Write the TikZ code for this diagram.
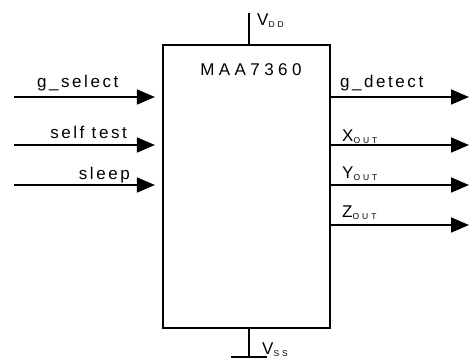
\documentclass[tikz,border=0pt]{standalone}
\usepackage{fontspec}
\setmainfont{Liberation Sans}
\usetikzlibrary{positioning,arrows.meta}

\newcommand{\subtxt}[1]{\raisebox{-2.5pt}{\fontsize{8.5}{8.5}\selectfont\addfontfeature{LetterSpace=35}#1}}

\tikzset{
  sig/.style={line width=1.7pt,-{Triangle[length=18pt,width=15pt]}},
  rail/.style={line width=2pt},
  lbl/.style={inner sep=0pt,font=\fontsize{17}{20}\selectfont\addfontfeature{LetterSpace=15}},
}

\begin{document}
\begin{tikzpicture}[x=1pt,y=-1pt]
		
		\useasboundingbox (0,0) rectangle (469,359);
		
		% the chip
		\node[draw,line width=2.2pt,minimum width=167pt,minimum height=283pt,inner sep=0pt]
		(chip) at (246.5,186.5) {};
		
		\node[lbl,anchor=base,font=\fontsize{17}{20}\selectfont\addfontfeature{LetterSpace=26}]
		(name) at (251,75) {MAA7360};
		
		% supply
		\coordinate (vdd) at (249,13);
		\draw[rail] (vdd) -- (vdd |- chip.north);
		\node[lbl,anchor=base west] (vddlbl) at (257,25) {V\subtxt{DD}};
		
		\coordinate (vss) at (249,357);
		\coordinate (gndl) at (231,357);
		\coordinate (gndr) at (267,357);
		\draw[rail] (vss |- chip.south) -- (vss);
		\draw[rail] (gndl) -- (gndr);
		\node[lbl,anchor=base west] (vsslbl) at (262,354) {V\subtxt{SS}};
		
		% inputs
		\coordinate (gsel) at (14,97);
		\coordinate (stest) at (14,145);
		\coordinate (slp) at (14,185);
		\foreach \c in {gsel,stest,slp}
		\draw[sig] (\c) -- ([xshift=-7pt]chip.west |- \c);
		
		\node[lbl,anchor=base west] (gsellbl) at (37,87) {g\_select};
		\node[lbl,anchor=base east] (stestlbl) at (127,138) {self test};
		\node[lbl,anchor=base east] (slplbl) at (130,179) {sleep};
		
		% outputs
		\coordinate (gdet) at (469,97);
		\coordinate (xout) at (469,145);
		\coordinate (yout) at (469,185);
		\coordinate (zout) at (469,225);
		\foreach \c in {gdet,xout,yout,zout}
		\draw[sig] (chip.east |- \c) -- (\c);
		
		\node[lbl,anchor=base west] (gdetlbl) at (340,87) {g\_detect};
		\node[lbl,anchor=base west] (xlbl) at (342,141) {X\subtxt{OUT}};
		\node[lbl,anchor=base west] (ylbl) at (342,178) {Y\subtxt{OUT}};
		\node[lbl,anchor=base west] (zlbl) at (342,217) {Z\subtxt{OUT}};
		
	\end{tikzpicture}
\end{document}
